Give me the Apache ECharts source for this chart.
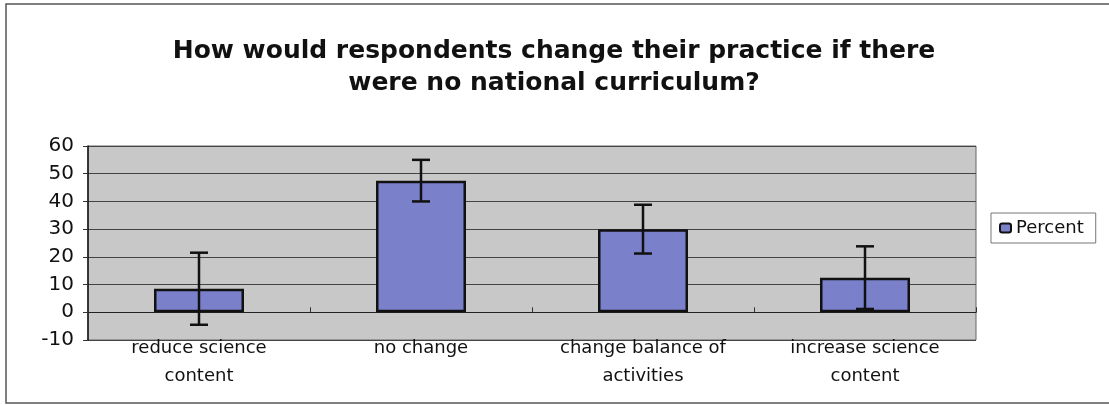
<!DOCTYPE html>
<html>
<head>
<meta charset="utf-8">
<script src="https://cdn.jsdelivr.net/npm/echarts@6/dist/echarts.min.js"></script>
<style>
  html, body { margin: 0; padding: 0; background: #fff; }
  #chart { width: 1109px; height: 405px; }
</style>
</head>
<body>
<div id="chart"></div>
<script>
// values
const categories = ['reduce science\ncontent', 'no change', 'change balance of\nactivities', 'increase science\ncontent'];
const percent = [8.5, 47.5, 30, 12.5];
const errors = [13, 7.5, 8.8, 11.3];
const yTicks = { min: -10, max: 60, interval: 10 };

let chartElement = document.getElementById('chart');
let chart = echarts.init(chartElement);

let errorData = percent.map((v, i) => [i, v - errors[i], v + errors[i]]);

let option = {
    animation: false,
    backgroundColor: '#fff',
    title: {
        text: 'How would respondents change their practice if there\nwere no national curriculum?',
        left: 549,
        textAlign: 'center',
        top: 30,
        textStyle: {
            fontFamily: 'DejaVu Sans',
            fontSize: 25,
            fontWeight: 'bold',
            color: '#111',
            lineHeight: 32
        }
    },
    graphic: [{
        type: 'rect',
        shape: { x: 6, y: 4, width: 1120, height: 399 },
        style: { fill: 'none', stroke: '#555', lineWidth: 1.5 },
        silent: true
    }],
    legend: {
        data: ['Percent'],
        left: 991,
        top: 213,
        orient: 'vertical',
        padding: [6, 12, 6, 8],
        borderColor: '#777',
        borderWidth: 1,
        itemWidth: 11,
        itemHeight: 9,
        itemGap: 6,
        textStyle: { fontFamily: 'DejaVu Sans', fontSize: 18, color: '#111' }
    },
    grid: {
        left: 88,
        right: 133,
        top: 146,
        bottom: 65,
        show: true,
        backgroundColor: '#c8c8c8',
        borderColor: '#666',
        borderWidth: 1
    },
    xAxis: [
        {
            type: 'category',
            data: categories,
            position: 'bottom',
            axisLine: { show: true, onZero: true, lineStyle: { color: '#222', width: 1 } },
            axisTick: { show: true, length: 5, inside: true, lineStyle: { color: '#333' } },
            axisLabel: { show: false }
        },
        {
            type: 'category',
            data: categories,
            position: 'bottom',
            axisLine: { show: false, onZero: false },
            axisTick: { show: false },
            axisLabel: {
                margin: -6,
                fontFamily: 'DejaVu Sans',
                fontSize: 18,
                lineHeight: 28,
                color: '#111'
            }
        }
    ],
    yAxis: {
        type: 'value',
        min: yTicks.min,
        max: yTicks.max,
        interval: yTicks.interval,
        axisLine: { show: true, lineStyle: { color: '#111', width: 1.5 } },
        axisTick: { show: true, length: 5, lineStyle: { color: '#333' } },
        axisLabel: {
            margin: 14,
            fontFamily: 'DejaVu Sans',
            fontSize: 20,
            color: '#111'
        },
        splitLine: { show: true, lineStyle: { color: '#444', width: 1 } }
    },
    series: [
        {
            name: 'Percent',
            type: 'bar',
            barWidth: 90,
            data: percent,
            itemStyle: { color: '#7b80cb', borderColor: '#111', borderWidth: 2.5 }
        },
        {
            name: 'error',
            type: 'custom',
            data: errorData,
            z: 10,
            renderItem: function (params, api) {
                let x = api.value(0);
                let lo = api.coord([x, api.value(1)]);
                let hi = api.coord([x, api.value(2)]);
                let cap = 9;
                let style = { stroke: '#111', lineWidth: 2.5 };
                return {
                    type: 'group',
                    children: [
                        { type: 'line', shape: { x1: hi[0], y1: hi[1], x2: lo[0], y2: lo[1] }, style: style },
                        { type: 'line', shape: { x1: hi[0] - cap, y1: hi[1], x2: hi[0] + cap, y2: hi[1] }, style: style },
                        { type: 'line', shape: { x1: lo[0] - cap, y1: lo[1], x2: lo[0] + cap, y2: lo[1] }, style: style }
                    ]
                };
            }
        }
    ]
};

chart.setOption(option);
</script>
</body>
</html>
